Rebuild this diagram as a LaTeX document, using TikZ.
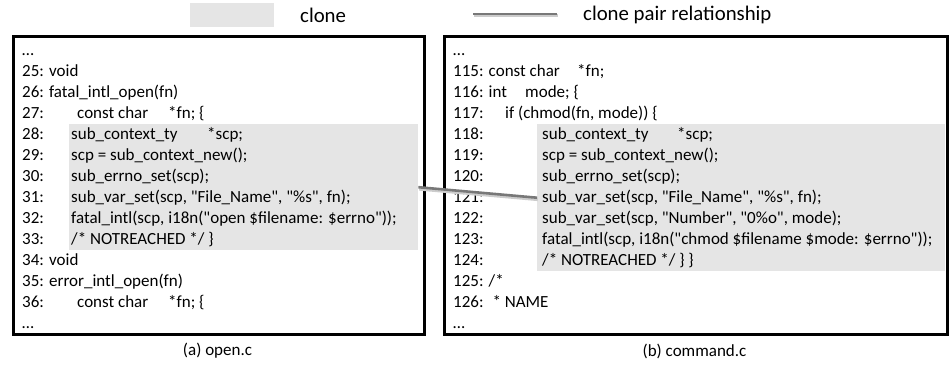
\documentclass[tikz,border=0pt]{standalone}
\usepackage{fontspec}
\setmainfont{Carlito}[Ligatures=TeXOff]
\definecolor{clonebg}{RGB}{229,229,229}
\definecolor{pairline}{RGB}{120,120,120}
% one line of code: name, x, row, text
\newcommand\codeat[4]{\node[code] (#1) at (#2,{55+21*#3}) {#4};}
\begin{document}
\begin{tikzpicture}[x=1pt,y=-1pt,
  txt/.style={inner sep=0pt, font=\fontsize{17}{20}\selectfont},
  keytxt/.style={inner sep=0pt, anchor=west, font=\fontsize{20.8}{24}\selectfont},
  code/.style={txt, anchor=base west},
  codeA/.style={font=\fontsize{18}{21}\selectfont},
  clonearea/.style={fill=clonebg, draw=none, inner sep=0pt, anchor=north west},
  filebox/.style={draw=black, line width=2.6pt, inner sep=0pt, anchor=north west},
  pairlink/.style={draw=pairline, line width=2.6pt,
    preaction={draw=black!20, line width=3.2pt, transform canvas={shift={(0.8pt,-1.8pt)}}}}]
\useasboundingbox (0,0) rectangle (949,365);

% legend
\node[fill=clonebg, inner sep=0pt, minimum width=84pt, minimum height=24pt] (keyclone) at (232,15) {};
\node[keytxt] (keyclonetxt) at (300,15) {clone};
\coordinate (keyl) at (473,14);
\coordinate (keyr) at (557,14);
\draw[pairlink] (keyl) -- (keyr);
\node[keytxt] (keypairtxt) at (583,15) {clone pair relationship};

% cloned fragments
\node[clonearea, minimum width=349pt, minimum height=126pt] (cloneA) at (69,124) {};
\node[clonearea, minimum width=408pt, minimum height=147pt] (cloneB) at (537,124) {};

% open.c
\begin{scope}[every node/.append style={codeA}]
\codeat{a0}{22}{0}{…}
\codeat{a1}{22}{1}{25: void}
\codeat{a2}{22}{2}{26: fatal\_intl\_open(fn)}
\codeat{a3}{22}{3}{27:}
\codeat{a3b}{77}{3}{const char}
\codeat{a3c}{168}{3}{*fn; \{}
\codeat{a4}{22}{4}{28:}
\codeat{a4b}{71}{4}{sub\_context\_ty}
\codeat{a4c}{207}{4}{*scp;}
\codeat{a5}{22}{5}{29:}
\codeat{a5b}{71}{5}{scp = sub\_context\_new();}
\codeat{a6}{22}{6}{30:}
\codeat{a6b}{71}{6}{sub\_errno\_set(scp);}
\codeat{a7}{22}{7}{31:}
\codeat{a7b}{71}{7}{sub\_var\_set(scp, "File\_Name", "\%s", fn);}
\codeat{a8}{22}{8}{32:}
\codeat{a8b}{71}{8}{fatal\_intl(scp, i18n("open \$filename: \$errno"));}
\codeat{a9}{22}{9}{33:}
\codeat{a9b}{71}{9}{/* NOTREACHED */ \}}
\codeat{a10}{22}{10}{34: void}
\codeat{a11}{22}{11}{35: error\_intl\_open(fn)}
\codeat{a12}{22}{12}{36:}
\codeat{a12b}{77}{12}{const char}
\codeat{a12c}{168}{12}{*fn; \{}
\codeat{a13}{22}{13}{…}
\end{scope}

% command.c
\codeat{b0}{453}{0}{…}
\codeat{b1}{453}{1}{115: const char}
\codeat{b1b}{577}{1}{*fn;}
\codeat{b2}{453}{2}{116: int}
\codeat{b2b}{525}{2}{mode; \{}
\codeat{b3}{453}{3}{117:}
\codeat{b3b}{505}{3}{if (chmod(fn, mode)) \{}
\codeat{b4}{453}{4}{118:}
\codeat{b4b}{542}{4}{sub\_context\_ty}
\codeat{b4c}{677}{4}{*scp;}
\codeat{b5}{453}{5}{119:}
\codeat{b5b}{542}{5}{scp = sub\_context\_new();}
\codeat{b6}{453}{6}{120:}
\codeat{b6b}{542}{6}{sub\_errno\_set(scp);}
\codeat{b7}{453}{7}{121:}
\codeat{b7b}{542}{7}{sub\_var\_set(scp, "File\_Name", "\%s", fn);}
\codeat{b8}{453}{8}{122:}
\codeat{b8b}{542}{8}{sub\_var\_set(scp, "Number", "0\%o", mode);}
\codeat{b9}{453}{9}{123:}
\codeat{b9b}{542}{9}{fatal\_intl(scp, i18n("chmod \$filename \$mode: \$errno"));}
\codeat{b10}{453}{10}{124:}
\codeat{b10b}{542}{10}{/* NOTREACHED */ \} \}}
\codeat{b11}{453}{11}{125: /*}
\codeat{b12}{453}{12}{126: \ * NAME}
\codeat{b13}{453}{13}{…}

% file frames
\node[filebox, minimum width=411pt, minimum height=298pt] (boxA) at (12,35) {};
\node[filebox, minimum width=503pt, minimum height=298pt] (boxB) at (443,35) {};

% captions
\node[txt] (capA) at (217.5,351) {(a) open.c};
\node[txt] (capB) at (694.5,351) {(b) command.c};

% clone pair
\draw[pairlink] (cloneA.east) -- (cloneB.west);
\end{tikzpicture}
\end{document}
